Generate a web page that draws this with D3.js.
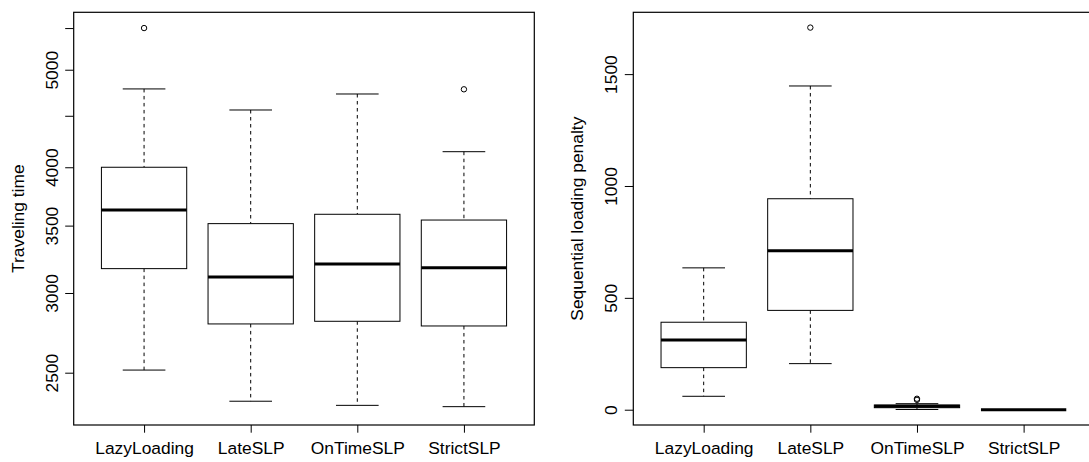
<!DOCTYPE html>
<html>
<head>
<meta charset="utf-8">
<script src="https://cdn.jsdelivr.net/npm/d3@7"></script>
<style>
  html, body { margin: 0; padding: 0; background: #fff; }
  svg { display: block; }
  text { font-family: "Liberation Sans", Arial, Helvetica, sans-serif; fill: #000; }
</style>
</head>
<body>
<svg id="chart" width="1089" height="462"></svg>
<script>
// ---------- data ----------
const categories = ["LazyLoading", "LateSLP", "OnTimeSLP", "StrictSLP"];

// Panel 1: Traveling time (log scale)
const travelLowerWhisker = [2515, 2342, 2320, 2313];
const travelQ1           = [3172, 2795, 2812, 2782];
const travelMedian       = [3627, 3112, 3206, 3179];
const travelQ3           = [4000, 3516, 3592, 3545];
const travelUpperWhisker = [4785, 4560, 4730, 4145];
const travelOutliers     = [[5500], [], [], [4781]];
const travelTicks        = [2500, 3000, 3500, 4000, 4500, 5000, 5500];
const travelTickLabels   = ["2500", "3000", "3500", "4000", "", "5000", ""];
const travelDomain       = [2218, 5702];

// Panel 2: Sequential loading penalty (linear scale)
const penaltyLowerWhisker = [60, 206, 1, 0];
const penaltyQ1           = [188, 444, 9, 0];
const penaltyMedian       = [312, 710, 15, 0];
const penaltyQ3           = [391, 943, 21, 0];
const penaltyUpperWhisker = [634, 1447, 27, 0];
const penaltyOutliers     = [[], [1708], [49, 44], []];
const penaltyTicks        = [0, 500, 1000, 1500];
const penaltyTickLabels   = ["0", "500", "1000", "1500"];

const travelTitle = "Traveling time";
const penaltyTitle = "Sequential loading penalty";

// ---------- drawing ----------
const svg = d3.select("#chart");
const FONT = 17.4;

function buildRows(lw, q1, med, q3, uw, outs) {
  return categories.map((c, i) => ({
    cat: c, idx: i + 1, lw: lw[i], q1: q1[i], med: med[i], q3: q3[i], uw: uw[i], outs: outs[i]
  }));
}

function drawPanel(opt) {
  const { left, right, top, bottom, rows, log, ticks, tickLabels, title, domain } = opt;
  const g = svg.append("g");

  // x scale like R: xlim c(0.5, n+0.5) extended by 4%
  const n = categories.length;
  const xr = [0.5, n + 0.5];
  const xpad = (xr[1] - xr[0]) * 0.04;
  const x = d3.scaleLinear().domain([xr[0] - xpad, xr[1] + xpad]).range([left, right]);

  // y scale
  const all = [];
  rows.forEach(r => { all.push(r.lw, r.uw, ...r.outs); });
  let y;
  if (log) {
    y = d3.scaleLog().domain(domain).range([bottom, top]);
  } else {
    const lo = d3.min(all), hi = d3.max(all);
    const p = (hi - lo) * 0.04;
    y = d3.scaleLinear().domain([lo - p, hi + p]).range([bottom, top]);
  }

  const unit = x(1) - x(0);
  const boxW = 0.8 * unit;
  const capW = 0.4 * unit;

  const box = g.selectAll("g.box").data(rows).enter().append("g").attr("class", "box");

  // whiskers (dashed)
  box.append("line")
    .attr("x1", d => x(d.idx)).attr("x2", d => x(d.idx))
    .attr("y1", d => y(d.uw)).attr("y2", d => y(d.q3))
    .attr("stroke", "#000").attr("stroke-width", 1).attr("stroke-dasharray", "3.5,3.5");
  box.append("line")
    .attr("x1", d => x(d.idx)).attr("x2", d => x(d.idx))
    .attr("y1", d => y(d.q1)).attr("y2", d => y(d.lw))
    .attr("stroke", "#000").attr("stroke-width", 1).attr("stroke-dasharray", "3.5,3.5");
  // caps
  box.append("line")
    .attr("x1", d => x(d.idx) - capW / 2).attr("x2", d => x(d.idx) + capW / 2)
    .attr("y1", d => y(d.uw)).attr("y2", d => y(d.uw))
    .attr("stroke", "#000").attr("stroke-width", 1);
  box.append("line")
    .attr("x1", d => x(d.idx) - capW / 2).attr("x2", d => x(d.idx) + capW / 2)
    .attr("y1", d => y(d.lw)).attr("y2", d => y(d.lw))
    .attr("stroke", "#000").attr("stroke-width", 1);
  // box
  box.append("rect")
    .attr("x", d => x(d.idx) - boxW / 2).attr("width", boxW)
    .attr("y", d => y(d.q3)).attr("height", d => Math.max(0, y(d.q1) - y(d.q3)))
    .attr("fill", "#fff").attr("stroke", "#000").attr("stroke-width", 1);
  // median
  box.append("line")
    .attr("x1", d => x(d.idx) - boxW / 2).attr("x2", d => x(d.idx) + boxW / 2)
    .attr("y1", d => y(d.med)).attr("y2", d => y(d.med))
    .attr("stroke", "#000").attr("stroke-width", 3);
  // outliers
  box.each(function(d) {
    d3.select(this).selectAll("circle").data(d.outs).enter().append("circle")
      .attr("cx", x(d.idx)).attr("cy", v => y(v)).attr("r", 2.7)
      .attr("fill", "none").attr("stroke", "#000").attr("stroke-width", 1);
  });

  // frame
  g.append("rect")
    .attr("x", left).attr("y", top).attr("width", right - left).attr("height", bottom - top)
    .attr("fill", "none").attr("stroke", "#000").attr("stroke-width", 1.2);

  // y axis
  const yAxis = d3.axisLeft(y).tickValues(ticks)
    .tickFormat((d, i) => tickLabels[i]).tickSize(8.5).tickSizeOuter(0);
  const ya = g.append("g").attr("transform", `translate(${left},0)`).call(yAxis);
  ya.select(".domain").remove();
  ya.selectAll(".tick line").attr("stroke", "#000");
  ya.selectAll(".tick text")
    .attr("x", null).attr("dy", null)
    .attr("text-anchor", "middle")
    .attr("transform", "translate(-16,0) rotate(-90)")
    .style("font-size", FONT + "px")
    .style("font-family", '"Liberation Sans", Arial, sans-serif')
    .attr("fill", "#000");

  // x axis
  const xAxis = d3.axisBottom(x).tickValues(rows.map(r => r.idx))
    .tickFormat((d, i) => categories[i]).tickSize(7.7).tickSizeOuter(0);
  const xa = g.append("g").attr("transform", `translate(0,${bottom})`).call(xAxis);
  xa.select(".domain").remove();
  xa.selectAll(".tick line").attr("stroke", "#000");
  xa.selectAll(".tick text")
    .attr("y", 29).attr("dy", null)
    .style("font-size", FONT + "px")
    .style("font-family", '"Liberation Sans", Arial, sans-serif')
    .attr("fill", "#000");

  // y title
  g.append("text")
    .attr("transform", `translate(${left - 50},${(top + bottom) / 2}) rotate(-90)`)
    .attr("text-anchor", "middle")
    .style("font-size", FONT + "px")
    .text(title);
}

drawPanel({
  left: 73.7, right: 534.3, top: 12.3, bottom: 425,
  rows: buildRows(travelLowerWhisker, travelQ1, travelMedian, travelQ3, travelUpperWhisker, travelOutliers),
  log: true, ticks: travelTicks, tickLabels: travelTickLabels, title: travelTitle, domain: travelDomain
});

drawPanel({
  left: 633.3, right: 1094, top: 12.3, bottom: 425,
  rows: buildRows(penaltyLowerWhisker, penaltyQ1, penaltyMedian, penaltyQ3, penaltyUpperWhisker, penaltyOutliers),
  log: false, ticks: penaltyTicks, tickLabels: penaltyTickLabels, title: penaltyTitle
});
</script>
</body>
</html>
